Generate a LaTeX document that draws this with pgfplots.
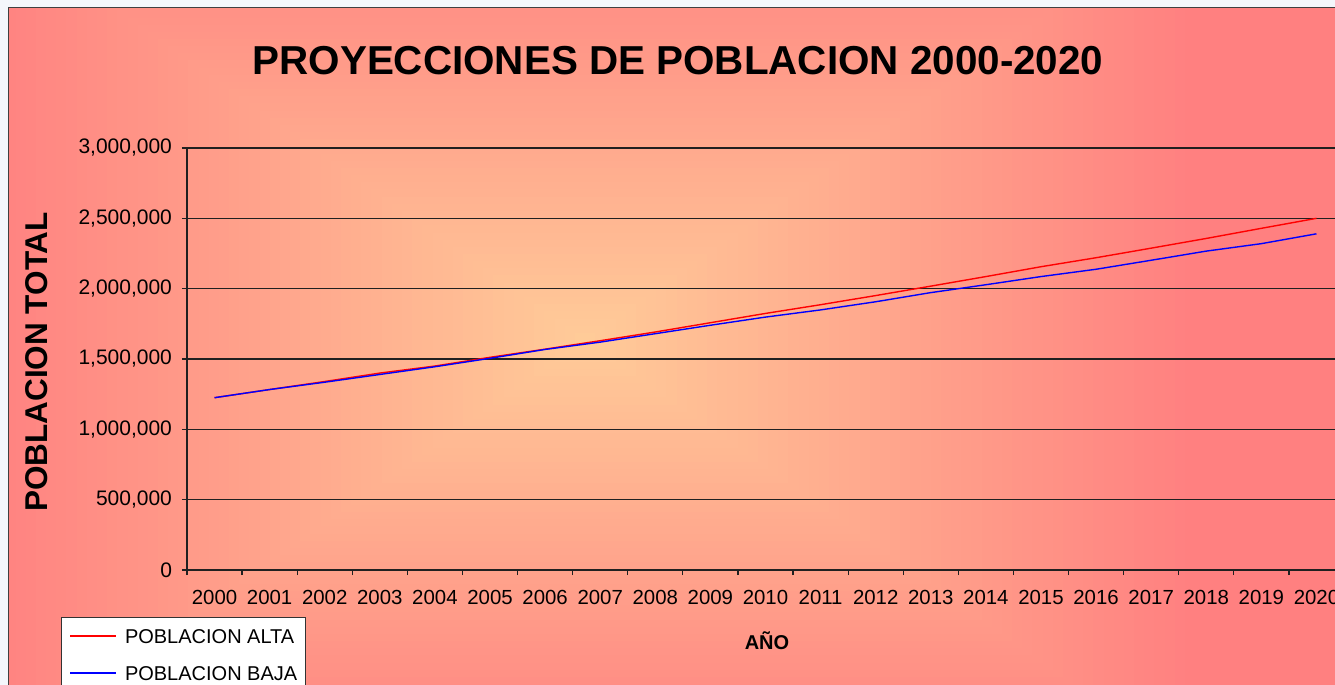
\documentclass[border=0pt]{standalone}
\usepackage{pgfplots}
\pgfplotsset{compat=1.18}
\usepackage{fontspec}
\setmainfont{Liberation Sans}
\definecolor{pinkbg}{HTML}{FF8080}
\definecolor{lightbg}{HTML}{FFCC99}
\definecolor{outerbg}{HTML}{F4F7FB}
\definecolor{gridc}{HTML}{202020}
\begin{document}
\begin{tikzpicture}[x=0.5pt,y=-0.5pt]
\useasboundingbox (0,0) rectangle (1335,685);
\begin{scope}
\clip (0,0) rectangle (1335,685);
\fill[outerbg] (0,0) rectangle (1335,685);
\begin{scope}
\clip (9,8) rectangle (1345,700);
\fill[pinkbg] (9,8) rectangle (1345,700);
\foreach \i in {1,...,60}{
  \pgfmathsetmacro\pct{100*\i/60}
  \pgfmathsetmacro\hw{610*(1-\i/60)}
  \pgfmathsetmacro\hh{430*(1-\i/60)}
  \fill[lightbg!\pct!pinkbg] ({585-\hw},{340-\hh}) rectangle ({585+\hw},{340+\hh});
}
\end{scope}
\draw[black!75, line width=0.6pt] (8.5,7.5) rectangle (1345,700);
\node[anchor=base, font=\bfseries\fontsize{20.2}{24}\selectfont] at (678,75) {PROYECCIONES DE POBLACION 2000-2020};
\node[rotate=90, font=\bfseries\fontsize{15.75}{18}\selectfont] at (37,362) {POBLACION TOTAL};
\node[anchor=base, font=\bfseries\fontsize{10}{12}\selectfont] at (767,649) {AÑO};
\begin{scope}[x=1cm,y=1cm]
\begin{axis}[
  at={(93.5pt,-285pt)}, anchor=south west,
  scale only axis, width=578.5pt, height=211pt,
  xmin=-0.5, xmax=20.5, ymin=0, ymax=3000000,
  axis lines=left, axis line style={-, gridc, line width=0.6pt},
  tick align=outside, major tick length=2.5pt,
  tick style={gridc, line width=0.6pt},
  xtick={-0.5,0.5,...,20.5},
  xticklabels={2000,2001,2002,2003,2004,2005,2006,2007,2008,2009,2010,2011,2012,2013,2014,2015,2016,2017,2018,2019,2020,{}},
  xticklabel style={font=\fontsize{10.2}{12}\selectfont, xshift=13.775pt, yshift=-4pt},
  ytick={0,500000,1000000,1500000,2000000,2500000,3000000},
  yticklabels={0,{500,000},{1,000,000},{1,500,000},{2,000,000},{2,500,000},{3,000,000}},
  scaled y ticks=false,
  yticklabel style={font=\fontsize{10.5}{12}\selectfont, xshift=-1.5pt},
  ymajorgrids, major grid style={gridc, line width=0.7pt},
  legend cell align=left,
  legend image code/.code={\draw[#1] (0pt,0pt) -- (23pt,0pt);},
  legend style={
    at={(axis description cs:-0.1089,-0.1114)}, anchor=north west,
    draw=black!80, fill=white, line width=0.6pt,
    font=\fontsize{10}{12}\selectfont,
    inner xsep=4pt, inner ysep=0pt, row sep=0pt,
    nodes={inner sep=0pt, minimum height=18.5pt, text height=7.2pt, text depth=0pt},
    /tikz/every odd column/.append style={column sep=4pt},
  },
]
\addplot[red, line width=0.7pt] coordinates {
(0,1225000) (1,1283000) (2,1340000) (3,1400000) (4,1450000) (5,1512000)
(6,1570000) (7,1630000) (8,1692000) (9,1758000) (10,1824000) (11,1886000)
(12,1951000) (13,2018000) (14,2086000) (15,2156000) (16,2220000) (17,2288000)
(18,2357000) (19,2429000) (20,2500000)};
\addlegendentry{POBLACION ALTA}
\addplot[blue, line width=0.7pt] coordinates {
(0,1225000) (1,1283000) (2,1335000) (3,1390000) (4,1445000) (5,1505000)
(6,1568000) (7,1620000) (8,1680000) (9,1740000) (10,1798000) (11,1849000)
(12,1907000) (13,1972000) (14,2028000) (15,2086000) (16,2138000) (17,2202000)
(18,2267000) (19,2320000) (20,2390000)};
\addlegendentry{POBLACION BAJA}
\end{axis}
\end{scope}
\end{scope}
\end{tikzpicture}
\end{document}
